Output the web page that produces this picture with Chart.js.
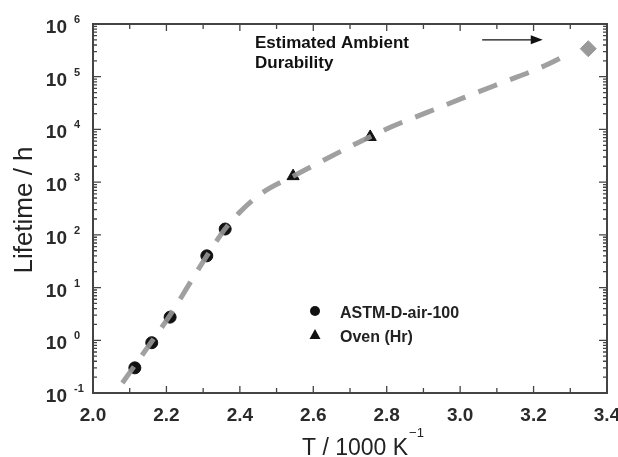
<!DOCTYPE html>
<html>
<head>
    <title>Lifetime vs T</title>
    <script src="https://cdn.jsdelivr.net/npm/chart.js"></script>
    <style>
        body { margin: 0; background: #fff; }
        .chart-container { width: 618px; height: 457px; }
    </style>
</head>
<body>
    <div class="chart-container">
        <canvas id="chart" width="618" height="457"></canvas>
    </div>
    <script>
    // ASTM-D-air-100 (circles)
    var astmT = [2.114, 2.16, 2.21, 2.31, 2.36];
    var astmLife = [0.30, 0.9, 2.75, 40, 129];
    // Oven (Hr) (triangles)
    var ovenT = [2.545, 2.755];
    var ovenLife = [1300, 7200];
    // estimated ambient durability (grey diamond)
    var ambientT = [3.349];
    var ambientLife = [340000];
    // dashed fit curve
    var fitT = [2.08, 2.16, 2.21, 2.26, 2.31, 2.36, 2.40, 2.46, 2.55, 2.70, 2.81, 2.91, 3.01, 3.12, 3.22, 3.30];
    var fitLife = [0.155, 0.95, 3.0, 11, 40, 130, 270, 620, 1350, 4700, 11000, 21000, 40000, 80000, 150000, 280000];
    // axis ticks
    var xTicks = [2.0, 2.2, 2.4, 2.6, 2.8, 3.0, 3.2, 3.4];
    var yExponents = [-1, 0, 1, 2, 3, 4, 5, 6];
    var legendLabels = ["ASTM-D-air-100", "Oven (Hr)"];
    var noteLines = ["Estimated Ambient", "Durability"];

    function pairs(xs, ys) {
        return xs.map(function(x, i) { return { x: x, y: ys[i] }; });
    }

    var FONT = "'Liberation Sans', Arial, Helvetica, sans-serif";

    // 枠・目盛り・ラベルを描くプラグイン
    var decorations = {
        id: "decorations",
        afterDraw: function(chart) {
            var ctx = chart.ctx;
            var a = chart.chartArea;
            var xs = chart.scales.x;
            var ys = chart.scales.y;
            ctx.save();

            // frame
            ctx.strokeStyle = "#444";
            ctx.lineWidth = 2;
            ctx.strokeRect(a.left, a.top, a.right - a.left, a.bottom - a.top);

            // x ticks every 0.1
            ctx.lineWidth = 1.3;
            for (var i = 0; i <= 14; i++) {
                var v = 2.0 + i * 0.1;
                var px = xs.getPixelForValue(v);
                var len = (i % 2 === 0) ? 7 : 5;
                ctx.beginPath();
                ctx.moveTo(px, a.bottom); ctx.lineTo(px, a.bottom - len);
                ctx.moveTo(px, a.top); ctx.lineTo(px, a.top + len);
                ctx.stroke();
            }
            // y ticks (decades + minors)
            for (var e = -1; e <= 6; e++) {
                for (var m = 1; m <= 9; m++) {
                    var val = m * Math.pow(10, e);
                    if (val > 1e6) break;
                    var py = ys.getPixelForValue(val);
                    var l = (m === 1) ? 8 : 4;
                    ctx.beginPath();
                    ctx.moveTo(a.left, py); ctx.lineTo(a.left + l, py);
                    ctx.moveTo(a.right, py); ctx.lineTo(a.right - l, py);
                    ctx.stroke();
                }
            }

            // x tick labels
            ctx.fillStyle = "#2a2a2a";
            ctx.font = "bold 19px " + FONT;
            ctx.textAlign = "center";
            ctx.textBaseline = "alphabetic";
            xTicks.forEach(function(t) {
                ctx.fillText(t.toFixed(1), xs.getPixelForValue(t), a.bottom + 28);
            });

            // y tick labels 10^n
            yExponents.forEach(function(n) {
                var py = ys.getPixelForValue(Math.pow(10, n));
                ctx.font = "bold 19px " + FONT;
                ctx.textAlign = "right";
                ctx.fillText("10", a.left - 26, py + 9);
                ctx.font = "bold 11px " + FONT;
                ctx.textAlign = "left";
                ctx.fillText(n < 0 ? "-" + Math.abs(n) : String(n), a.left - 19, py - 1);
            });

            // axis titles
            ctx.fillStyle = "#222";
            ctx.font = "23px " + FONT;
            ctx.textAlign = "left";
            var tx = a.left + 209;
            ctx.fillText("T / 1000 K", tx, 455);
            var w = ctx.measureText("T / 1000 K").width;
            ctx.font = "13px " + FONT;
            ctx.fillText("\u22121", tx + w + 1, 437);

            ctx.save();
            ctx.translate(32, 210);
            ctx.rotate(-Math.PI / 2);
            ctx.font = "26px " + FONT;
            ctx.textAlign = "center";
            ctx.fillText("Lifetime / h", 0, 0);
            ctx.restore();

            // note + arrow
            ctx.fillStyle = "#111";
            ctx.font = "bold 17px " + FONT;
            ctx.textAlign = "left";
            ctx.fillText(noteLines[0], 255, 48);
            ctx.fillText(noteLines[1], 255, 68);

            var ay = ys.getPixelForValue(5e5);
            var ax1 = xs.getPixelForValue(3.06);
            var ax2 = xs.getPixelForValue(3.225);
            ctx.strokeStyle = "#111";
            ctx.lineWidth = 1.3;
            ctx.beginPath();
            ctx.moveTo(ax1, ay); ctx.lineTo(ax2 - 8, ay);
            ctx.stroke();
            ctx.beginPath();
            ctx.moveTo(ax2, ay); ctx.lineTo(ax2 - 12, ay - 4.5); ctx.lineTo(ax2 - 12, ay + 4.5);
            ctx.closePath();
            ctx.fill();

            // legend
            ctx.fillStyle = "#111";
            ctx.beginPath();
            ctx.arc(315, 311, 5, 0, Math.PI * 2);
            ctx.fill();
            ctx.beginPath();
            ctx.moveTo(315, 329); ctx.lineTo(320.5, 339); ctx.lineTo(309.5, 339);
            ctx.closePath();
            ctx.fill();
            ctx.fillStyle = "#222";
            ctx.font = "bold 16px " + FONT;
            ctx.fillText(legendLabels[0], 340, 318);
            ctx.fillText(legendLabels[1], 340, 342);

            ctx.restore();
        }
    };

    var chart = new Chart(document.getElementById("chart"), {
        type: "scatter",
        data: {
            datasets: [
                {
                    label: "fit",
                    data: pairs(fitT, fitLife),
                    showLine: true,
                    pointRadius: 0,
                    borderColor: "rgba(150,150,150,0.9)",
                    borderWidth: 5,
                    borderDash: [20, 14],
                    cubicInterpolationMode: "monotone",
                    order: 0
                },
                {
                    label: legendLabels[0],
                    data: pairs(astmT, astmLife),
                    pointStyle: "circle",
                    pointRadius: 6,
                    backgroundColor: "#111",
                    borderColor: "#111",
                    order: 1
                },
                {
                    label: legendLabels[1],
                    data: pairs(ovenT, ovenLife),
                    pointStyle: "triangle",
                    pointRadius: 7,
                    backgroundColor: "#111",
                    borderColor: "#111",
                    order: 1
                },
                {
                    label: "ambient",
                    data: pairs(ambientT, ambientLife),
                    pointStyle: "rectRot",
                    pointRadius: 8,
                    backgroundColor: "#999",
                    borderColor: "#999",
                    order: 1
                }
            ]
        },
        options: {
            responsive: false,
            animation: false,
            devicePixelRatio: 1,
            layout: { padding: { left: 0, right: 11, top: 24, bottom: 0 } },
            plugins: { legend: { display: false }, tooltip: { enabled: false } },
            scales: {
                x: {
                    type: "linear",
                    min: 2.0, max: 3.4,
                    grid: { display: false },
                    border: { display: false },
                    ticks: { display: false },
                    afterFit: function(s) { s.height = 64; }
                },
                y: {
                    type: "logarithmic",
                    min: 0.1, max: 1e6,
                    grid: { display: false },
                    border: { display: false },
                    ticks: { display: false },
                    afterFit: function(s) { s.width = 93; }
                }
            }
        },
        plugins: [decorations]
    });
    </script>
</body>
</html>
